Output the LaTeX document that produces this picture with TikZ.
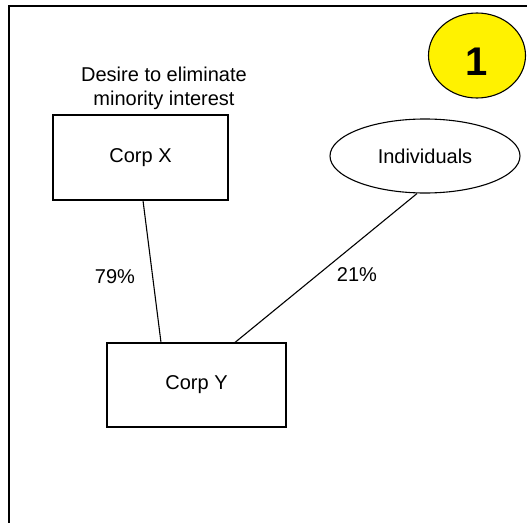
\documentclass[tikz,border=0pt]{standalone}
\usepackage{fontspec}
\setmainfont{Liberation Sans}
\usetikzlibrary{shapes.geometric}
\begin{document}
\begin{tikzpicture}[x=1pt,y=-1pt,
  every node/.style={font=\fontsize{20}{24}\selectfont, inner sep=0pt},
  corpbox/.style={draw, line width=1.1pt, rectangle},
  ovalbox/.style={draw, line width=1.1pt, ellipse},
  link/.style={draw, line width=1.1pt}]
\useasboundingbox (0,0) rectangle (527,522);
\draw[line width=2.2pt] (9,540) -- (9,6) -- (540,6);
\node[corpbox, minimum width=175pt, minimum height=85pt] (cx) at (140.5,157.5) {Corp X};
\node[corpbox, minimum width=179pt, minimum height=84pt] (cy) at (196.5,385) {Corp Y};
\node[ovalbox, minimum width=190pt, minimum height=74pt] (ind) at (425,156) {Individuals};
\node[ovalbox, fill=yellow, minimum width=97pt, minimum height=85pt] (one) at (477,55.5) {};
\node[font=\fontsize{40}{40}\selectfont\bfseries] (onetxt) at (477,61.5) {1};
\node[align=center] (desire) at (164,88) {Desire to eliminate\\minority interest};
\draw[link] ([xshift=2.5pt]cx.south) -- ([xshift=-35.5pt]cy.north);
\draw[link] ([xshift=-8pt]ind.south) -- ([xshift=38.5pt]cy.north);
\node (p79) at (115,277) {79\%};
\node (p21) at (357,275) {21\%};
\end{tikzpicture}
\end{document}
